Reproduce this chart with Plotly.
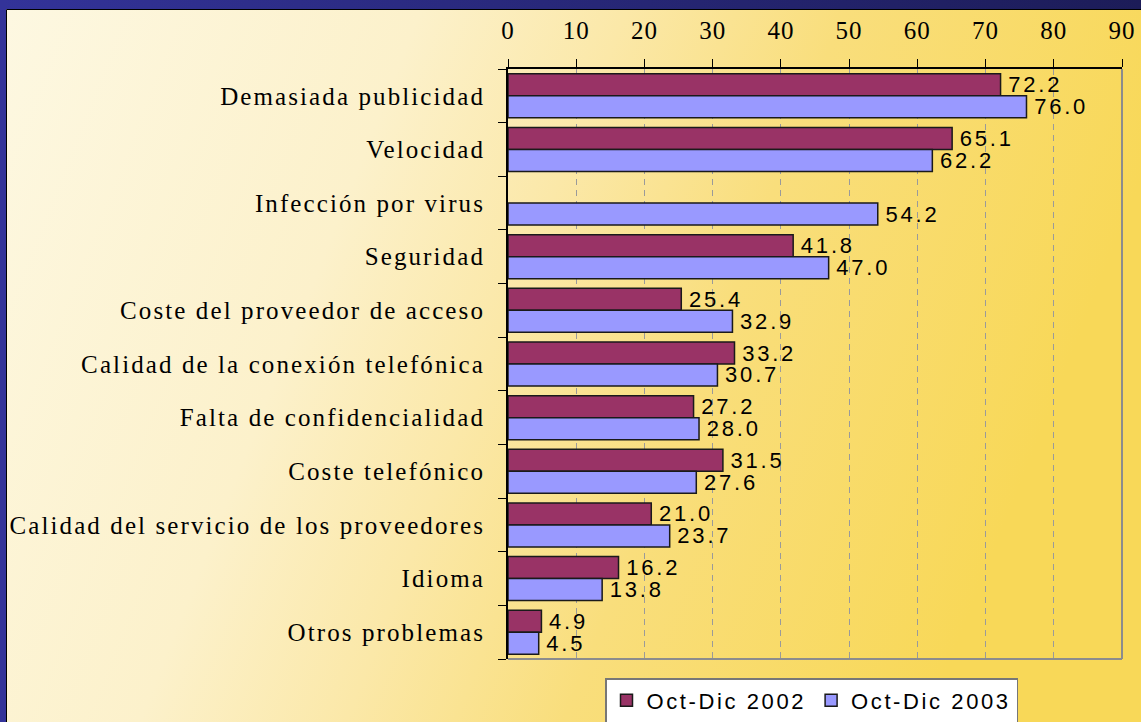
import base64
import plotly.graph_objects as go

categorias = [
    "Demasiada publicidad",
    "Velocidad",
    "Infección por virus",
    "Seguridad",
    "Coste del proveedor de acceso",
    "Calidad de la conexión telefónica",
    "Falta de confidencialidad",
    "Coste telefónico",
    "Calidad del servicio de los proveedores",
    "Idioma",
    "Otros problemas",
]
oct_dic_2002 = [72.2, 65.1, None, 41.8, 25.4, 33.2, 27.2, 31.5, 21.0, 16.2, 4.9]
oct_dic_2003 = [76.0, 62.2, 54.2, 47.0, 32.9, 30.7, 28.0, 27.6, 23.7, 13.8, 4.5]
ticks_x = [0, 10, 20, 30, 40, 50, 60, 70, 80, 90]

W, H = 1141, 722
ML, MR, MT, MB = 508, 19, 69, 63
PW, PH = W - ML - MR, H - MT - MB

SERIF = "Liberation Serif, Times New Roman, serif"
SANS = "Liberation Sans, Arial, sans-serif"


def esp(txt, px):
    # texto con espaciado entre letras, como en la diapositiva original
    return f'<span style="letter-spacing:{px}px">{txt}</span>'


# fondo degradado de la diapositiva con el marco azul
svg = f'''<svg xmlns="http://www.w3.org/2000/svg" width="{W}" height="{H}" viewBox="0 0 {W} {H}" preserveAspectRatio="none">
<defs>
<linearGradient id="g" x1="0" y1="0" x2="1" y2="0.25">
<stop offset="0" stop-color="#FDF8E2"/>
<stop offset="0.35" stop-color="#FCF1CB"/>
<stop offset="0.52" stop-color="#FBE8A8"/>
<stop offset="0.7" stop-color="#F9DE7C"/>
<stop offset="1" stop-color="#F8D858"/>
</linearGradient>
<linearGradient id="b" x1="0" y1="0" x2="1" y2="0">
<stop offset="0" stop-color="#333399"/>
<stop offset="1" stop-color="#1C1C58"/>
</linearGradient>
</defs>
<rect width="{W}" height="{H}" fill="url(#g)"/>
<rect width="{W}" height="9" fill="url(#b)"/>
<rect width="6" height="{H}" fill="#333399"/>
<path d="M6.5,{H}V9.5H{W}" stroke="#000" stroke-width="1" fill="none"/>
</svg>'''
fondo = "data:image/svg+xml;base64," + base64.b64encode(svg.encode()).decode()

fig = go.Figure()

fig.add_trace(go.Bar(
    y=categorias, x=oct_dic_2002, orientation="h",
    name=esp("Oct-Dic 2002", 2.6),
    marker=dict(color="#993366", line=dict(color="#1a1a1a", width=1.5)),
    texttemplate=esp("\u200a%{x:.1f}", 2.8), textposition="outside",
    textfont=dict(family=SANS, size=22, color="#000000"),
    constraintext="none", cliponaxis=False,
))
fig.add_trace(go.Bar(
    y=categorias, x=oct_dic_2003, orientation="h",
    name=esp("Oct-Dic 2003", 2.6),
    marker=dict(color="#9999FF", line=dict(color="#1a1a1a", width=1.5)),
    texttemplate=esp("\u200a%{x:.1f}", 2.8), textposition="outside",
    textfont=dict(family=SANS, size=22, color="#000000"),
    constraintext="none", cliponaxis=False,
))

fig.update_layout(
    width=W, height=H,
    barmode="group", bargap=0.18, bargroupgap=0,
    margin=dict(l=ML, r=MR, t=MT, b=MB, autoexpand=False),
    paper_bgcolor="rgba(0,0,0,0)",
    plot_bgcolor="#FFFFCC",
    font=dict(family=SERIF, color="#000000"),
    xaxis=dict(
        side="top", range=[0, 90],
        tickvals=ticks_x, ticktext=[esp(str(t), 1) for t in ticks_x],
        tickfont=dict(family=SERIF, size=25, color="#000000"),
        ticks="outside", ticklen=8, tickcolor="#000000", tickwidth=1,
        ticklabelstandoff=10,
        showline=True, linecolor="#000000", linewidth=1.5,
        showgrid=True, gridcolor="#9a9a9a", gridwidth=1, griddash="6px,5px",
        zeroline=False, fixedrange=True,
    ),
    yaxis=dict(
        autorange="reversed",
        tickvals=categorias, ticktext=[esp(c, 2.1) for c in categorias],
        tickfont=dict(family=SERIF, size=25, color="#000000"),
        ticks="outside", ticklen=8, tickcolor="#000000", tickwidth=1,
        tickson="boundaries", ticklabelstandoff=16,
        showline=True, linecolor="#000000", linewidth=2,
        showgrid=False, zeroline=False, fixedrange=True,
    ),
    legend=dict(
        orientation="h", x=(605 - ML) / PW, y=-(678 - MT - PH) / PH,
        xanchor="left", yanchor="top",
        bgcolor="#FFFFFF", bordercolor="#777777", borderwidth=1.5,
        font=dict(family=SANS, size=22, color="#000000"),
        itemwidth=30, traceorder="normal",
    ),
    images=[dict(
        source=fondo, xref="paper", yref="paper",
        x=-ML / PW, y=1 + MT / PH, sizex=W / PW, sizey=H / PH,
        xanchor="left", yanchor="top", sizing="stretch", layer="below",
    )],
    shapes=[
        dict(type="line", xref="paper", yref="paper", x0=1, x1=1, y0=0, y1=1,
             line=dict(color="#8c8c8c", width=2), layer="above"),
        dict(type="line", xref="paper", yref="paper", x0=0, x1=1, y0=0, y1=0,
             line=dict(color="#8c8c8c", width=2), layer="above"),
    ],
    showlegend=True,
)

fig.write_html("out.html", config={"displayModeBar": False},
               post_script="document.body.style.margin='0';")
